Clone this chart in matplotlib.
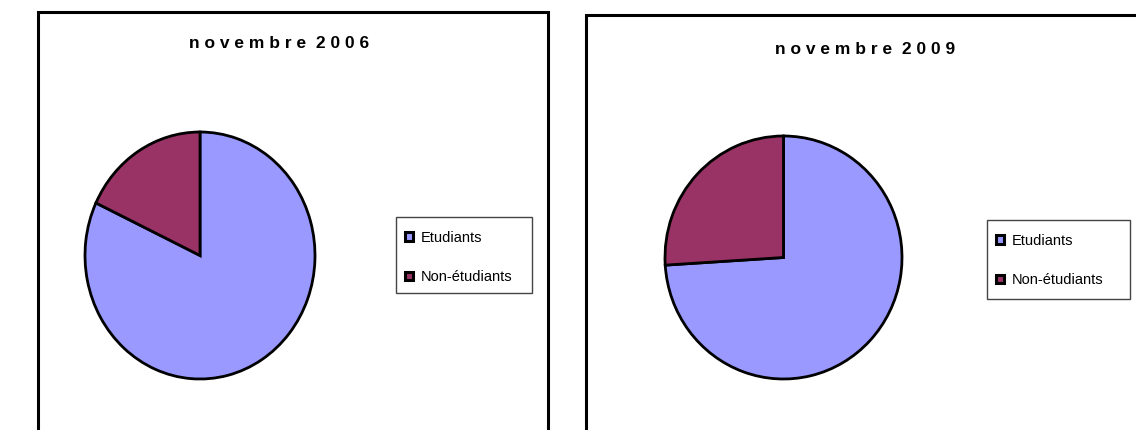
#!/usr/bin/env python3
"""Two Excel-style pie charts: etudiants vs non-etudiants, 2006 and 2009."""

import matplotlib.pyplot as plt
from matplotlib.patches import Rectangle, Patch

plt.rcParams["font.family"] = ["Liberation Sans", "DejaVu Sans"]

# data
labels = ["Etudiants", "Non-étudiants"]
titles = ["n o v e m b r e  2 0 0 6", "n o v e m b r e  2 0 0 9"]
values_2006 = [82, 18]
values_2009 = [74, 26]
colors = ["#9999FF", "#993366"]

W, H = 1136, 430
fig = plt.figure(figsize=(W / 100, H / 100), dpi=100)


def px_box(left, top, right, bottom):
    # pixel box -> figure fraction [x0, y0, w, h]
    return [left / W, 1 - bottom / H, (right - left) / W, (bottom - top) / H]


def frame_rect(left, top, right, bottom, lw, color):
    x0, y0, w, h = px_box(left, top, right, bottom)
    fig.patches.append(Rectangle((x0, y0), w, h, transform=fig.transFigure,
                                 fill=False, edgecolor=color, linewidth=lw))


# panel frames (second one runs off the right and both off the bottom)
frame_rect(38, 12, 548, H + 10, 2.2, "black")
frame_rect(586, 15, W + 10, H + 10, 2.2, "black")

panels = [
    # values, title, pie box, title pos, legend frame, first row (x, y)
    (values_2006, titles[0], (85, 132, 315, 379), (279, 44),
     (396, 217, 532, 293), (405, 238)),
    (values_2009, titles[1], (665, 136, 902, 379), (865, 49),
     (987, 220, 1130, 299), (996, 241)),
]

for vals, title, pie_box, tpos, leg_frame, row0 in panels:
    ax = fig.add_axes(px_box(*pie_box))
    ax.pie(vals, colors=colors, startangle=90, counterclock=False,
           radius=1.0, wedgeprops=dict(edgecolor="black", linewidth=2.0))
    ax.set_aspect("auto")
    ax.set_xlim(-1, 1)
    ax.set_ylim(-1, 1)
    ax.axis("off")

    fig.text(tpos[0] / W, 1 - tpos[1] / H, title, ha="center", va="center",
             fontsize=12.5, fontweight="bold")

    # legend box drawn separately, entries placed inside it
    frame_rect(*leg_frame, 1.0, "#444444")
    handles = [Patch(facecolor=c, edgecolor="black", linewidth=2.2) for c in colors]
    fig.legend(handles, labels, loc="upper left",
               bbox_to_anchor=(row0[0] / W, 1 - (row0[1] - 7) / H),
               borderaxespad=0, borderpad=0, fontsize=10.5, frameon=False,
               handlelength=0.55, handleheight=0.55, handletextpad=0.5,
               labelspacing=1.72)

fig.savefig("out.png", dpi=100, facecolor="white")
